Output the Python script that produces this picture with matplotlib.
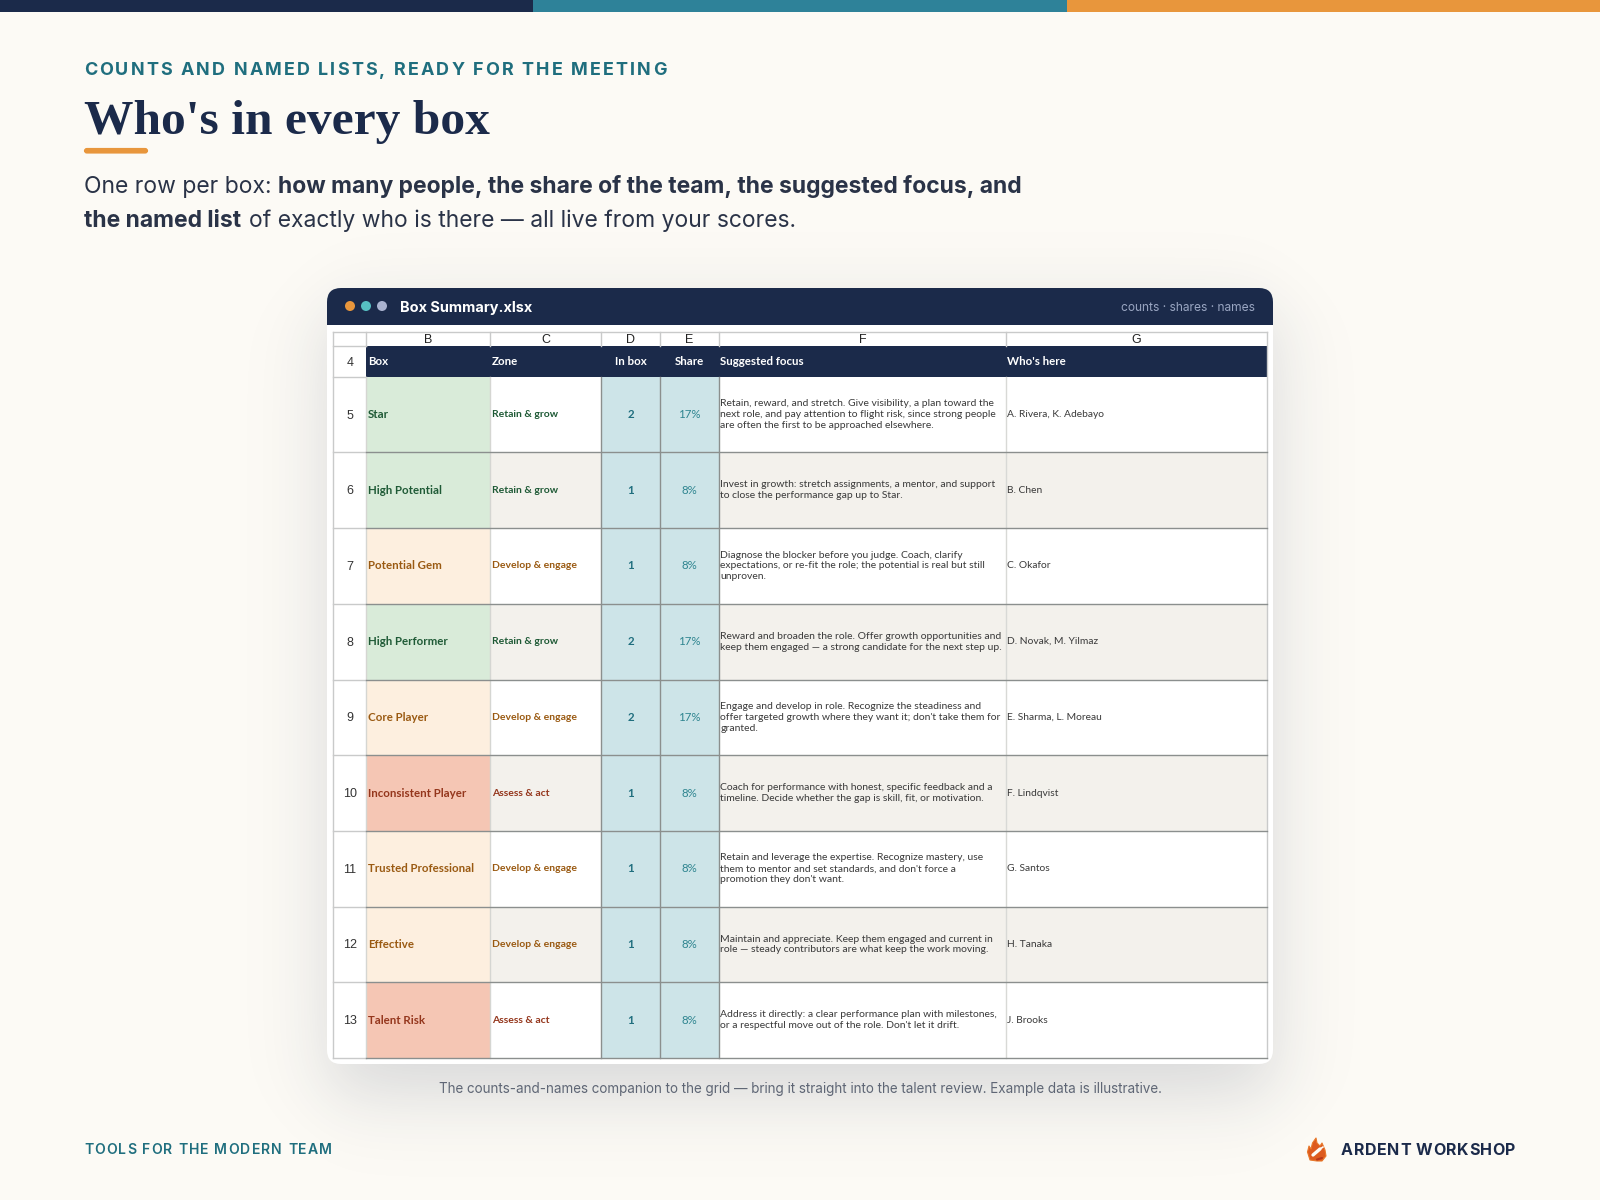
import numpy as np
import matplotlib
matplotlib.use("Agg")
import matplotlib.pyplot as plt
from matplotlib import font_manager
from matplotlib.ft2font import LoadFlags
from matplotlib.patches import Rectangle, FancyBboxPatch, Circle, PathPatch
from matplotlib.path import Path
from matplotlib.text import Text
from matplotlib.transforms import Bbox, IdentityTransform

# ---------- data ----------
col_letters = ["B", "C", "D", "E", "F", "G"]
col_headers = ["Box", "Zone", "In box", "Share", "Suggested focus", "Who's here"]
row_numbers = [5, 6, 7, 8, 9, 10, 11, 12, 13]
boxes = ["Star", "High Potential", "Potential Gem", "High Performer", "Core Player",
         "Inconsistent Player", "Trusted Professional", "Effective", "Talent Risk"]
zones = ["Retain & grow", "Retain & grow", "Develop & engage", "Retain & grow", "Develop & engage",
         "Assess & act", "Develop & engage", "Develop & engage", "Assess & act"]
counts = [2, 1, 1, 2, 2, 1, 1, 1, 1]
shares = ["17%", "8%", "8%", "17%", "17%", "8%", "8%", "8%", "8%"]
focus = [
    "Retain, reward, and stretch. Give visibility, a plan toward the\nnext role, and pay attention to flight risk, since strong people\nare often the first to be approached elsewhere.",
    "Invest in growth: stretch assignments, a mentor, and support\nto close the performance gap up to Star.",
    "Diagnose the blocker before you judge. Coach, clarify\nexpectations, or re-fit the role; the potential is real but still\nunproven.",
    "Reward and broaden the role. Offer growth opportunities and\nkeep them engaged \u2014 a strong candidate for the next step up.",
    "Engage and develop in role. Recognize the steadiness and\noffer targeted growth where they want it; don't take them for\ngranted.",
    "Coach for performance with honest, specific feedback and a\ntimeline. Decide whether the gap is skill, fit, or motivation.",
    "Retain and leverage the expertise. Recognize mastery, use\nthem to mentor and set standards, and don't force a\npromotion they don't want.",
    "Maintain and appreciate. Keep them engaged and current in\nrole \u2014 steady contributors are what keep the work moving.",
    "Address it directly: a clear performance plan with milestones,\nor a respectful move out of the role. Don't let it drift.",
]
names = ["A. Rivera, K. Adebayo", "B. Chen", "C. Okafor", "D. Novak, M. Yilmaz", "E. Sharma, L. Moreau",
         "F. Lindqvist", "G. Santos", "H. Tanaka", "J. Brooks"]

zone_fill = {"Retain & grow": "#D9EBD9", "Develop & engage": "#FDEFDF", "Assess & act": "#F5C6B4"}
zone_text = {"Retain & grow": "#1F5A36", "Develop & engage": "#9A5A12", "Assess & act": "#94361C"}

NAVY = "#1B2A4A"; TEAL = "#1F6E7E"; ORANGE = "#E8963C"; BG = "#FCFAF5"
col_x = [366.2, 490.3, 601.4, 660.0, 718.9, 1005.8, 1266.5]
px = 0.72  # points per pixel at dpi 100
SANS = ["Inter", "DejaVu Sans"]; XL = ["Lato", "DejaVu Sans"]; AR = ["Liberation Sans", "DejaVu Sans"]

fig = plt.figure(figsize=(16, 12), dpi=100, facecolor=BG)
ax = fig.add_axes([0, 0, 1, 1])
ax.set_xlim(0, 1600); ax.set_ylim(1200, 0); ax.axis("off")


class TrackedText(Text):
    """One text artist drawn with extra letter spacing (pixels)."""
    def __init__(self, *a, tracking=0, **k):
        super().__init__(*a, **k)
        self.tracking = tracking

    def _advance(self, renderer, ch):
        prop = self.get_fontproperties()
        font = font_manager.get_font(font_manager.findfont(prop))
        font.set_size(prop.get_size_in_points(), renderer.dpi)
        return font.load_char(ord(ch), flags=LoadFlags.NO_HINTING).linearHoriAdvance / 65536

    def draw(self, renderer):
        x, y = self.get_transform().transform(self.get_position())
        for ch in self.get_text():
            if ch != " ":
                t = Text(x, y, ch, color=self.get_color(), fontproperties=self.get_fontproperties(),
                         va="center_baseline", ha="left", figure=self.get_figure())
                t.set_transform(IdentityTransform())
                t.draw(renderer)
            x += self._advance(renderer, ch) + self.tracking

    def get_window_extent(self, renderer=None, dpi=None):
        b = super().get_window_extent(renderer, dpi)
        return Bbox.from_extents(b.x0, b.y0, b.x1 + self.tracking * (len(self.get_text()) - 1), b.y1)


def tracked(x, y, s, size, tracking, **k):
    t = TrackedText(x, y, s, tracking=tracking, fontsize=size * px, va="center", ha="left", **k)
    ax.add_artist(t)
    return t


# ---------- top bars ----------
for x0, c in zip([0, 533.3, 1066.7], [NAVY, "#2E8299", ORANGE]):
    ax.add_patch(Rectangle((x0, 0), 533.4, 12, fc=c, ec="none"))

# ---------- heading ----------
tracked(84, 68.5, "COUNTS AND NAMED LISTS, READY FOR THE MEETING", 18, 2.09, color=TEAL, family=SANS, weight="bold")
ax.text(84, 122, "Who's in every box", fontsize=49.5 * px, color=NAVY, family=["Liberation Serif"], weight="bold",
        va="center", ha="left")
ax.add_patch(FancyBboxPatch((86, 150), 60, 1.5, boxstyle="round,pad=0,rounding_size=1", fc=ORANGE, ec=ORANGE, lw=3))


def runs(x, y, parts, gap=0):
    r = fig.canvas.get_renderer()
    for s, w in parts:
        t = ax.text(x, y, s, fontsize=22.9 * px, color="#2A3347", family=SANS, weight=w, va="center", ha="left")
        x = t.get_window_extent(r).x1 + gap


runs(84, 187, [("One row per box: ", "normal"), ("how many people, the share of the team, the suggested focus, and", "bold")])
runs(84, 221, [("the named list ", "bold"), ("of exactly who is there \u2014 all live from your scores.", "normal")], gap=2.5)

# ---------- card shadow ----------
yy, xx = np.mgrid[200:1200:2, 230:1370:2]
s = lambda v: 1 / (1 + np.exp(-v / 22.0))
alpha = 0.16 * s(xx - 327) * s(1273 - xx) * s(yy - 312) * s(1095 - yy)
rgba = np.zeros(xx.shape + (4,))
rgba[..., :3] = matplotlib.colors.to_rgb(NAVY)
rgba[..., 3] = alpha
ax.imshow(rgba, extent=(230, 1370, 1200, 200), interpolation="bilinear", aspect="auto", zorder=0)
ax.set_xlim(0, 1600); ax.set_ylim(1200, 0)

# ---------- card ----------
ax.add_patch(FancyBboxPatch((327, 288), 946, 776, boxstyle="round,pad=0,rounding_size=14", fc="white", ec="none", zorder=1))
ax.add_patch(FancyBboxPatch((327, 288), 946, 60, boxstyle="round,pad=0,rounding_size=14", fc=NAVY, ec="none", zorder=1.1))
ax.add_patch(Rectangle((327, 325), 946, 30, fc="white", ec="none", zorder=1.2))
for cx, c in zip([350, 366, 382], [ORANGE, "#57BFC2", "#A9B2CF"]):
    ax.add_patch(Circle((cx, 306), 5, fc=c, ec="none", zorder=2))
ax.text(400, 308, "Box Summary.xlsx", fontsize=14.5 * px, color="white", family=SANS, weight="bold", va="center", zorder=2)
ax.text(1255, 308, "counts \u00b7 shares \u00b7 names", fontsize=12 * px, color="#9AA6C2", family=SANS, va="center", ha="right", zorder=2)

# ---------- sheet ----------
L = 333.0
top, hdr_top, hdr_bot = 331.7, 346.0, 376.7
row_h = (1058.0 - hdr_bot) / len(boxes)
Z = 3
ax.add_patch(Rectangle((col_x[0], hdr_top), col_x[-1] - col_x[0], hdr_bot - hdr_top, fc=NAVY, ec="none", zorder=Z))
for i in range(len(boxes)):
    y0 = hdr_bot + i * row_h
    if i % 2:
        ax.add_patch(Rectangle((col_x[1], y0), col_x[-1] - col_x[1], row_h, fc="#F3F1EC", ec="none", zorder=Z))
    ax.add_patch(Rectangle((col_x[0], y0), col_x[1] - col_x[0], row_h, fc=zone_fill[zones[i]], ec="none", zorder=Z))
    ax.add_patch(Rectangle((col_x[2], y0), col_x[4] - col_x[2], row_h, fc="#CDE4E8", ec="none", zorder=Z))

# grid lines
LG, DG = "#C9CACA", "#8B8F8E"
ax.plot([L, col_x[-1]], [top, top], color=LG, lw=1, zorder=Z + 1)
ax.plot([L, col_x[0]], [hdr_top, hdr_top], color=LG, lw=1, zorder=Z + 1)
ax.plot([L, L], [top, 1058], color=LG, lw=1, zorder=Z + 1)
ax.plot([col_x[-1]] * 2, [top, 1058], color=LG, lw=1, zorder=Z + 1)
for x in col_x[:-1]:
    ax.plot([x, x], [top, hdr_top], color=LG, lw=1, zorder=Z + 1)
ax.plot([L, col_x[0]], [hdr_bot, hdr_bot], color=LG, lw=1, zorder=Z + 1)
for x, c in zip(col_x, ["#D5D6D2", "#D5D6D2", DG, DG, DG, "#D8D9D6"]):
    ax.plot([x, x], [hdr_bot, 1058], color=c, lw=1, zorder=Z + 1)
for i in range(1, len(boxes) + 1):
    y = hdr_bot + i * row_h
    ax.plot([L, col_x[0]], [y, y], color=LG, lw=1, zorder=Z + 1)
    ax.plot([col_x[0], col_x[-1]], [y, y], color=DG, lw=1, zorder=Z + 1)

# column letters and header
T = Z + 2
for a, b, lab in zip(col_x[:-1], col_x[1:], col_letters):
    ax.text((a + b) / 2, 340, lab, fontsize=12.5 * px, family=AR, color="#222222", ha="center", va="center", zorder=T)
ax.text((L + col_x[0]) / 2 + 0.5, 362.5, "4", fontsize=12.5 * px, family=AR, color="#333333", ha="center", va="center", zorder=T)
for j, h in enumerate(col_headers):
    if j in (2, 3):
        ax.text((col_x[j] + col_x[j + 1]) / 2, 361.2, h, fontsize=11.5 * px, family=XL, weight="bold", color="white",
                ha="center", va="center", zorder=T)
    else:
        ax.text(col_x[j] + 1.5, 361.2, h, fontsize=11.5 * px, family=XL, weight="bold", color="white",
                ha="left", va="center", zorder=T)

# rows
for i in range(len(boxes)):
    yc = hdr_bot + (i + 0.5) * row_h
    ax.text((L + col_x[0]) / 2 + 0.5, yc + 1, str(row_numbers[i]), fontsize=12.5 * px, family=AR, color="#333333",
            ha="center", va="center", zorder=T)
    ax.text(col_x[0] + 1.5, yc, boxes[i], fontsize=11.5 * px, family=XL, weight="bold", color=zone_text[zones[i]],
            ha="left", va="center", zorder=T)
    ax.text(col_x[1] + 1.5, yc, zones[i], fontsize=10.35 * px, family=XL, weight="bold", color=zone_text[zones[i]],
            ha="left", va="center", zorder=T)
    ax.text((col_x[2] + col_x[3]) / 2, yc, str(counts[i]), fontsize=11.5 * px, family=XL, weight="bold", color=TEAL,
            ha="center", va="center", zorder=T)
    ax.text((col_x[3] + col_x[4]) / 2, yc, shares[i], fontsize=11.5 * px, family=XL, color="#2F8590",
            ha="center", va="center", zorder=T)
    ax.text(col_x[4] + 1.5, yc, focus[i], fontsize=10.35 * px, family=XL, color="#3A3A3A", linespacing=1.25,
            ha="left", va="center", zorder=T)
    ax.text(col_x[5] + 1.5, yc, names[i], fontsize=10.2 * px, family=XL, color="#3A3A3A",
            ha="left", va="center", zorder=T)

# ---------- caption + footer ----------
ax.text(800, 1089, "The counts-and-names companion to the grid \u2014 bring it straight into the talent review. Example data is illustrative.",
        fontsize=13.5 * px, color="#5F6675", family=SANS, ha="center", va="center", zorder=T)
tracked(84, 1149, "TOOLS FOR THE MODERN TEAM", 14, 1.13, color=TEAL, family=SANS, weight="semibold")
tracked(1341, 1149, "ARDENT WORKSHOP", 16, 0.6, color=NAVY, family=SANS, weight="bold")

# flame icon
flame_v = [(1317, 1161), (1310, 1160), (1307.5, 1152), (1309, 1146), (1311, 1149), (1312.5, 1143), (1316, 1138),
           (1317, 1143), (1320, 1146), (1322, 1143), (1325, 1150), (1326, 1156), (1322, 1161), (1317, 1161)]
codes = [Path.MOVETO] + [Path.LINETO] * (len(flame_v) - 2) + [Path.CLOSEPOLY]
ax.add_patch(PathPatch(Path(flame_v, codes), fc="#DD5A1E", ec="#E8782A", lw=0.8, joinstyle="round"))
ax.plot([1313, 1320], [1155, 1149], color=BG, lw=2.4, solid_capstyle="round")
ax.plot([1320, 1323], [1149, 1147], color=BG, lw=1.2, solid_capstyle="round")
ax.plot([1317, 1322], [1159.5, 1158], color="#B8361A", lw=1.5, solid_capstyle="round")

fig.savefig("out.png", dpi=100, facecolor=BG)
